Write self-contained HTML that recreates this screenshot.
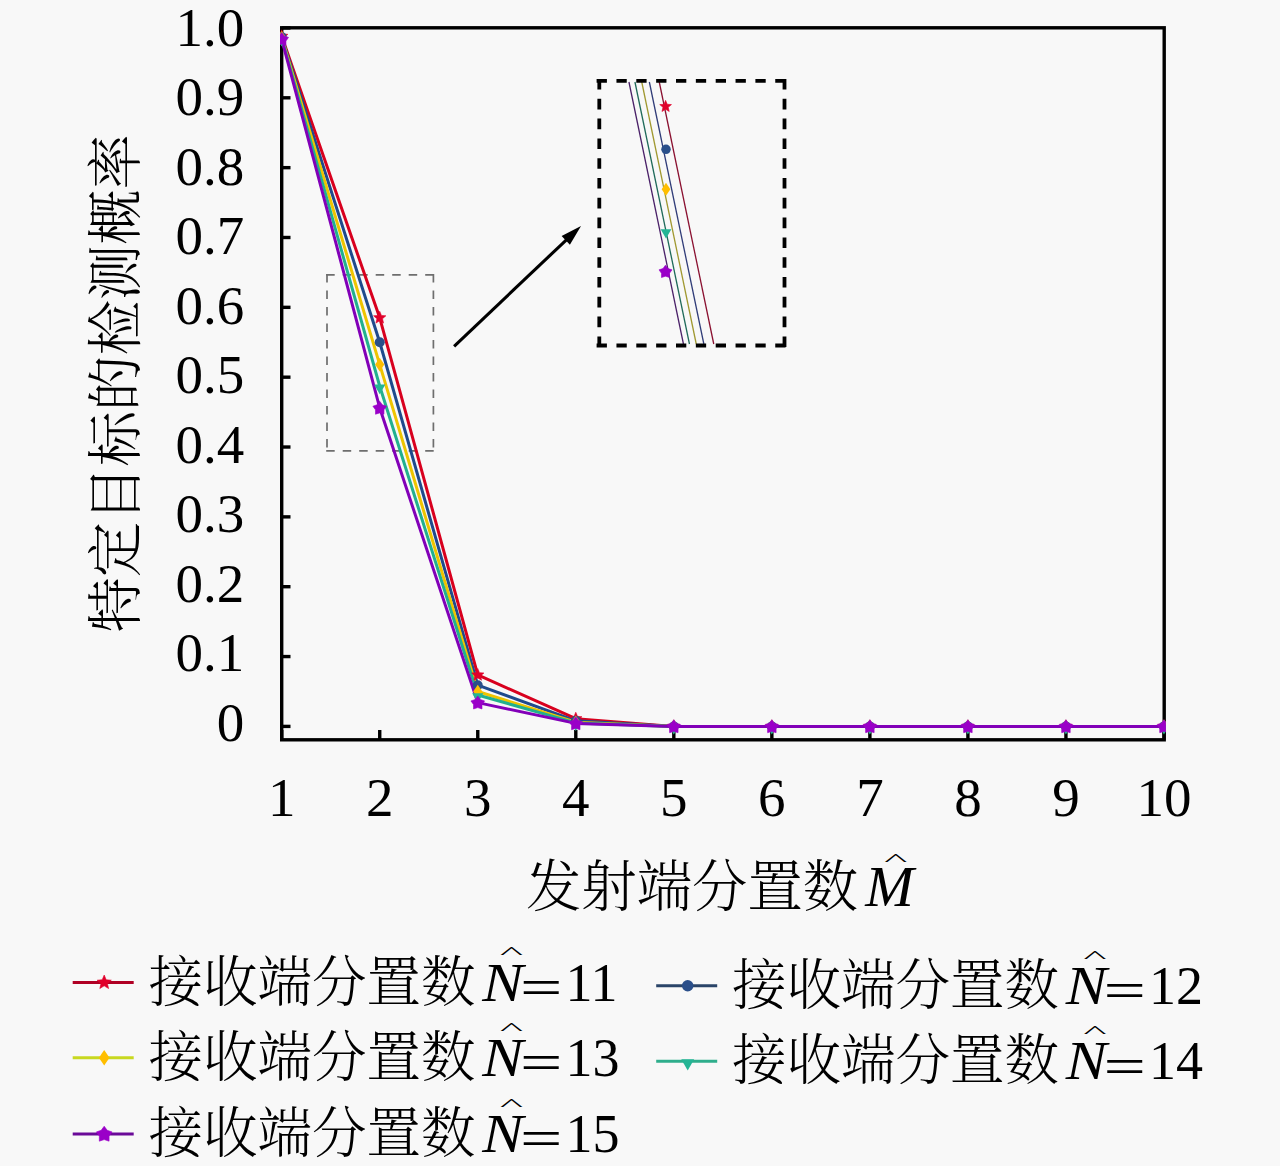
<!DOCTYPE html>
<html><head><meta charset="utf-8"><style>
html,body{margin:0;padding:0;background:#f8f8f8;overflow:hidden;}
svg{display:block;}
</style></head><body>
<svg width="1280" height="1166" viewBox="0 0 1280 1166">
<rect x="0" y="0" width="1280" height="1166" fill="#f8f8f8"/>
<defs><clipPath id="pc"><rect x="280" y="26" width="885.9" height="715.5"/></clipPath></defs>
<rect x="281.7" y="27.8" width="882.5" height="712" fill="none" stroke="#000" stroke-width="3.4"/>
<line x1="281.7" y1="726.40" x2="290.5" y2="726.40" stroke="#000" stroke-width="3.4"/>
<line x1="281.7" y1="656.56" x2="290.5" y2="656.56" stroke="#000" stroke-width="3.4"/>
<line x1="281.7" y1="586.71" x2="290.5" y2="586.71" stroke="#000" stroke-width="3.4"/>
<line x1="281.7" y1="516.87" x2="290.5" y2="516.87" stroke="#000" stroke-width="3.4"/>
<line x1="281.7" y1="447.02" x2="290.5" y2="447.02" stroke="#000" stroke-width="3.4"/>
<line x1="281.7" y1="377.18" x2="290.5" y2="377.18" stroke="#000" stroke-width="3.4"/>
<line x1="281.7" y1="307.34" x2="290.5" y2="307.34" stroke="#000" stroke-width="3.4"/>
<line x1="281.7" y1="237.49" x2="290.5" y2="237.49" stroke="#000" stroke-width="3.4"/>
<line x1="281.7" y1="167.65" x2="290.5" y2="167.65" stroke="#000" stroke-width="3.4"/>
<line x1="281.7" y1="97.80" x2="290.5" y2="97.80" stroke="#000" stroke-width="3.4"/>
<line x1="281.7" y1="27.96" x2="290.5" y2="27.96" stroke="#000" stroke-width="3.4"/>
<line x1="281.70" y1="739.8" x2="281.70" y2="730" stroke="#000" stroke-width="3.4"/>
<line x1="379.73" y1="739.8" x2="379.73" y2="730" stroke="#000" stroke-width="3.4"/>
<line x1="477.76" y1="739.8" x2="477.76" y2="730" stroke="#000" stroke-width="3.4"/>
<line x1="575.79" y1="739.8" x2="575.79" y2="730" stroke="#000" stroke-width="3.4"/>
<line x1="673.82" y1="739.8" x2="673.82" y2="730" stroke="#000" stroke-width="3.4"/>
<line x1="771.85" y1="739.8" x2="771.85" y2="730" stroke="#000" stroke-width="3.4"/>
<line x1="869.88" y1="739.8" x2="869.88" y2="730" stroke="#000" stroke-width="3.4"/>
<line x1="967.91" y1="739.8" x2="967.91" y2="730" stroke="#000" stroke-width="3.4"/>
<line x1="1065.94" y1="739.8" x2="1065.94" y2="730" stroke="#000" stroke-width="3.4"/>
<line x1="1163.97" y1="739.8" x2="1163.97" y2="730" stroke="#000" stroke-width="3.4"/>
<line x1="326.2" y1="274.9" x2="434.2" y2="274.9" stroke="#6e6e6e" stroke-width="1.7" stroke-dasharray="8.5 8"/>
<line x1="326.2" y1="450.8" x2="434.2" y2="450.8" stroke="#6e6e6e" stroke-width="1.7" stroke-dasharray="8.5 8"/>
<line x1="327" y1="274.1" x2="327" y2="451.6" stroke="#6e6e6e" stroke-width="1.7" stroke-dasharray="8.5 8"/>
<line x1="433.4" y1="274.1" x2="433.4" y2="451.6" stroke="#6e6e6e" stroke-width="1.7" stroke-dasharray="8.5 8"/>
<g clip-path="url(#pc)" fill="none" stroke-linejoin="round">
<polyline points="281.70,36.34 379.73,317.81 477.76,674.99 575.79,718.72 673.82,726.40 771.85,726.40 869.88,726.40 967.91,726.40 1065.94,726.40 1163.97,726.40" stroke="#d8001e" stroke-width="3"/>
<polyline points="281.70,37.04 379.73,342.26 477.76,685.19 575.79,720.81 673.82,726.40 771.85,726.40 869.88,726.40 967.91,726.40 1065.94,726.40 1163.97,726.40" stroke="#1f4a8c" stroke-width="3"/>
<polyline points="281.70,37.74 379.73,364.61 477.76,691.48 575.79,722.21 673.82,726.40 771.85,726.40 869.88,726.40 967.91,726.40 1065.94,726.40 1163.97,726.40" stroke="#eec400" stroke-width="3"/>
<polyline points="281.70,38.44 379.73,386.26 477.76,694.97 575.79,722.91 673.82,726.40 771.85,726.40 869.88,726.40 967.91,726.40 1065.94,726.40 1163.97,726.40" stroke="#22b08e" stroke-width="3"/>
<polyline points="281.70,39.14 379.73,407.91 477.76,702.65 575.79,723.40 673.82,726.40 771.85,726.40 869.88,726.40 967.91,726.40 1065.94,726.40 1163.97,726.40" stroke="#8200b8" stroke-width="3"/>
</g>
<g clip-path="url(#pc)">
<polygon points="281.70,29.84 283.42,33.97 287.88,34.33 284.48,37.25 285.52,41.60 281.70,39.27 277.88,41.60 278.92,37.25 275.52,34.33 279.98,33.97" fill="#e0002a" stroke="#e0002a" stroke-width="0.6"/>
<polygon points="379.73,311.31 381.45,315.45 385.91,315.80 382.51,318.72 383.55,323.07 379.73,320.74 375.91,323.07 376.95,318.72 373.55,315.80 378.01,315.45" fill="#e0002a" stroke="#e0002a" stroke-width="0.6"/>
<polygon points="477.76,668.49 479.48,672.63 483.94,672.99 480.54,675.90 481.58,680.25 477.76,677.92 473.94,680.25 474.98,675.90 471.58,672.99 476.04,672.63" fill="#e0002a" stroke="#e0002a" stroke-width="0.6"/>
<polygon points="575.79,712.22 577.51,716.35 581.97,716.71 578.57,719.62 579.61,723.98 575.79,721.64 571.97,723.98 573.01,719.62 569.61,716.71 574.07,716.35" fill="#e0002a" stroke="#e0002a" stroke-width="0.6"/>
<polygon points="673.82,719.90 675.54,724.03 680.00,724.39 676.60,727.30 677.64,731.66 673.82,729.32 670.00,731.66 671.04,727.30 667.64,724.39 672.10,724.03" fill="#e0002a" stroke="#e0002a" stroke-width="0.6"/>
<polygon points="771.85,719.90 773.57,724.03 778.03,724.39 774.63,727.30 775.67,731.66 771.85,729.32 768.03,731.66 769.07,727.30 765.67,724.39 770.13,724.03" fill="#e0002a" stroke="#e0002a" stroke-width="0.6"/>
<polygon points="869.88,719.90 871.60,724.03 876.06,724.39 872.66,727.30 873.70,731.66 869.88,729.32 866.06,731.66 867.10,727.30 863.70,724.39 868.16,724.03" fill="#e0002a" stroke="#e0002a" stroke-width="0.6"/>
<polygon points="967.91,719.90 969.63,724.03 974.09,724.39 970.69,727.30 971.73,731.66 967.91,729.32 964.09,731.66 965.13,727.30 961.73,724.39 966.19,724.03" fill="#e0002a" stroke="#e0002a" stroke-width="0.6"/>
<polygon points="1065.94,719.90 1067.66,724.03 1072.12,724.39 1068.72,727.30 1069.76,731.66 1065.94,729.32 1062.12,731.66 1063.16,727.30 1059.76,724.39 1064.22,724.03" fill="#e0002a" stroke="#e0002a" stroke-width="0.6"/>
<polygon points="1163.97,719.90 1165.69,724.03 1170.15,724.39 1166.75,727.30 1167.79,731.66 1163.97,729.32 1160.15,731.66 1161.19,727.30 1157.79,724.39 1162.25,724.03" fill="#e0002a" stroke="#e0002a" stroke-width="0.6"/>
<circle cx="281.70" cy="37.04" r="5.00" fill="#2a4f8a"/>
<circle cx="379.73" cy="342.26" r="5.00" fill="#2a4f8a"/>
<circle cx="477.76" cy="685.19" r="5.00" fill="#2a4f8a"/>
<circle cx="575.79" cy="720.81" r="5.00" fill="#2a4f8a"/>
<circle cx="673.82" cy="726.40" r="5.00" fill="#2a4f8a"/>
<circle cx="771.85" cy="726.40" r="5.00" fill="#2a4f8a"/>
<circle cx="869.88" cy="726.40" r="5.00" fill="#2a4f8a"/>
<circle cx="967.91" cy="726.40" r="5.00" fill="#2a4f8a"/>
<circle cx="1065.94" cy="726.40" r="5.00" fill="#2a4f8a"/>
<circle cx="1163.97" cy="726.40" r="5.00" fill="#2a4f8a"/>
<polygon points="281.70,30.94 286.30,37.74 281.70,44.54 277.10,37.74" fill="#ffbe00"/>
<polygon points="379.73,357.81 384.33,364.61 379.73,371.41 375.13,364.61" fill="#ffbe00"/>
<polygon points="477.76,684.68 482.36,691.48 477.76,698.28 473.16,691.48" fill="#ffbe00"/>
<polygon points="575.79,715.41 580.39,722.21 575.79,729.01 571.19,722.21" fill="#ffbe00"/>
<polygon points="673.82,719.60 678.42,726.40 673.82,733.20 669.22,726.40" fill="#ffbe00"/>
<polygon points="771.85,719.60 776.45,726.40 771.85,733.20 767.25,726.40" fill="#ffbe00"/>
<polygon points="869.88,719.60 874.48,726.40 869.88,733.20 865.28,726.40" fill="#ffbe00"/>
<polygon points="967.91,719.60 972.51,726.40 967.91,733.20 963.31,726.40" fill="#ffbe00"/>
<polygon points="1065.94,719.60 1070.54,726.40 1065.94,733.20 1061.34,726.40" fill="#ffbe00"/>
<polygon points="1163.97,719.60 1168.57,726.40 1163.97,733.20 1159.37,726.40" fill="#ffbe00"/>
<polygon points="281.70,46.44 276.07,36.69 287.33,36.69" fill="#25b595"/>
<polygon points="379.73,394.26 374.10,384.51 385.36,384.51" fill="#25b595"/>
<polygon points="477.76,702.97 472.13,693.22 483.39,693.22" fill="#25b595"/>
<polygon points="575.79,730.91 570.16,721.16 581.42,721.16" fill="#25b595"/>
<polygon points="673.82,734.40 668.19,724.65 679.45,724.65" fill="#25b595"/>
<polygon points="771.85,734.40 766.22,724.65 777.48,724.65" fill="#25b595"/>
<polygon points="869.88,734.40 864.25,724.65 875.51,724.65" fill="#25b595"/>
<polygon points="967.91,734.40 962.28,724.65 973.54,724.65" fill="#25b595"/>
<polygon points="1065.94,734.40 1060.31,724.65 1071.57,724.65" fill="#25b595"/>
<polygon points="1163.97,734.40 1158.34,724.65 1169.60,724.65" fill="#25b595"/>
<polygon points="281.70,32.44 284.32,36.02 288.55,37.41 285.95,41.01 285.93,45.46 281.70,44.10 277.47,45.46 277.45,41.01 274.85,37.41 279.08,36.02" fill="#9a00c8" stroke="#9a00c8" stroke-width="0.6"/>
<polygon points="379.73,401.21 382.35,404.80 386.58,406.19 383.98,409.79 383.96,414.24 379.73,412.88 375.50,414.24 375.48,409.79 372.88,406.19 377.11,404.80" fill="#9a00c8" stroke="#9a00c8" stroke-width="0.6"/>
<polygon points="477.76,695.95 480.38,699.54 484.61,700.93 482.01,704.53 481.99,708.98 477.76,707.62 473.53,708.98 473.51,704.53 470.91,700.93 475.14,699.54" fill="#9a00c8" stroke="#9a00c8" stroke-width="0.6"/>
<polygon points="575.79,716.70 578.41,720.29 582.64,721.67 580.04,725.28 580.02,729.72 575.79,728.36 571.56,729.72 571.54,725.28 568.94,721.67 573.17,720.29" fill="#9a00c8" stroke="#9a00c8" stroke-width="0.6"/>
<polygon points="673.82,719.70 676.44,723.29 680.67,724.68 678.07,728.28 678.05,732.72 673.82,731.36 669.59,732.72 669.57,728.28 666.97,724.68 671.20,723.29" fill="#9a00c8" stroke="#9a00c8" stroke-width="0.6"/>
<polygon points="771.85,719.70 774.47,723.29 778.70,724.68 776.10,728.28 776.08,732.72 771.85,731.36 767.62,732.72 767.60,728.28 765.00,724.68 769.23,723.29" fill="#9a00c8" stroke="#9a00c8" stroke-width="0.6"/>
<polygon points="869.88,719.70 872.50,723.29 876.73,724.68 874.13,728.28 874.11,732.72 869.88,731.36 865.65,732.72 865.63,728.28 863.03,724.68 867.26,723.29" fill="#9a00c8" stroke="#9a00c8" stroke-width="0.6"/>
<polygon points="967.91,719.70 970.53,723.29 974.76,724.68 972.16,728.28 972.14,732.72 967.91,731.36 963.68,732.72 963.66,728.28 961.06,724.68 965.29,723.29" fill="#9a00c8" stroke="#9a00c8" stroke-width="0.6"/>
<polygon points="1065.94,719.70 1068.56,723.29 1072.79,724.68 1070.19,728.28 1070.17,732.72 1065.94,731.36 1061.71,732.72 1061.69,728.28 1059.09,724.68 1063.32,723.29" fill="#9a00c8" stroke="#9a00c8" stroke-width="0.6"/>
<polygon points="1163.97,719.70 1166.59,723.29 1170.82,724.68 1168.22,728.28 1168.20,732.72 1163.97,731.36 1159.74,732.72 1159.72,728.28 1157.12,724.68 1161.35,723.29" fill="#9a00c8" stroke="#9a00c8" stroke-width="0.6"/>
</g>
<g>
<line x1="628.95" y1="82" x2="683.45" y2="344" stroke="#4a2068" stroke-width="1.3"/>
<line x1="634.95" y1="82" x2="689.45" y2="344" stroke="#1f6a5a" stroke-width="1.3"/>
<line x1="641.75" y1="82" x2="696.25" y2="344" stroke="#a09830" stroke-width="1.3"/>
<line x1="649.35" y1="82" x2="703.85" y2="344" stroke="#303c78" stroke-width="1.3"/>
<line x1="659.25" y1="82" x2="713.75" y2="344" stroke="#8a1030" stroke-width="1.3"/>
<polygon points="665.50,265.14 667.99,268.54 672.01,269.86 669.53,273.29 669.52,277.51 665.50,276.22 661.48,277.51 661.47,273.29 658.99,269.86 663.01,268.54" fill="#9a00c8" stroke="#9a00c8" stroke-width="0.6"/>
<polygon points="666.00,238.60 660.65,229.34 671.35,229.34" fill="#25b595"/>
<polygon points="666.00,182.84 670.37,189.30 666.00,195.76 661.63,189.30" fill="#ffbe00"/>
<circle cx="666.00" cy="149.30" r="4.75" fill="#2a4f8a"/>
<polygon points="665.60,100.33 667.23,104.25 671.47,104.59 668.24,107.36 669.23,111.50 665.60,109.28 661.97,111.50 662.96,107.36 659.73,104.59 663.97,104.25" fill="#e0002a" stroke="#e0002a" stroke-width="0.6"/>
</g>
<line x1="596.6" y1="80.8" x2="786.4" y2="80.8" stroke="#000" stroke-width="3.8" stroke-dasharray="10.3 9.55"/>
<line x1="596.6" y1="345.5" x2="786.4" y2="345.5" stroke="#000" stroke-width="3.8" stroke-dasharray="10.3 9.55"/>
<line x1="599.3" y1="79" x2="599.3" y2="347.4" stroke="#000" stroke-width="3.8" stroke-dasharray="10.6 9.2"/>
<line x1="784.5" y1="79" x2="784.5" y2="347.4" stroke="#000" stroke-width="3.8" stroke-dasharray="10.6 9.2"/>
<line x1="454.1" y1="346.3" x2="567.21" y2="239.07" stroke="#000" stroke-width="3.1"/>
<polygon points="581.0,226.0 569.89,244.80 561.63,236.09" fill="#000"/>
<g font-family="'Liberation Serif', serif" font-size="55" fill="#000">
<text x="244.3" y="740.90" text-anchor="end">0</text>
<text x="244.3" y="671.40" text-anchor="end">0.1</text>
<text x="244.3" y="601.90" text-anchor="end">0.2</text>
<text x="244.3" y="532.40" text-anchor="end">0.3</text>
<text x="244.3" y="462.90" text-anchor="end">0.4</text>
<text x="244.3" y="393.40" text-anchor="end">0.5</text>
<text x="244.3" y="323.90" text-anchor="end">0.6</text>
<text x="244.3" y="254.40" text-anchor="end">0.7</text>
<text x="244.3" y="184.90" text-anchor="end">0.8</text>
<text x="244.3" y="115.40" text-anchor="end">0.9</text>
<text x="244.3" y="45.90" text-anchor="end">1.0</text>
<text x="281.70" y="815.5" text-anchor="middle">1</text>
<text x="379.73" y="815.5" text-anchor="middle">2</text>
<text x="477.76" y="815.5" text-anchor="middle">3</text>
<text x="575.79" y="815.5" text-anchor="middle">4</text>
<text x="673.82" y="815.5" text-anchor="middle">5</text>
<text x="771.85" y="815.5" text-anchor="middle">6</text>
<text x="869.88" y="815.5" text-anchor="middle">7</text>
<text x="967.91" y="815.5" text-anchor="middle">8</text>
<text x="1065.94" y="815.5" text-anchor="middle">9</text>
<text x="1163.97" y="815.5" text-anchor="middle">10</text>
</g>
<text transform="translate(135.3,383.3) rotate(-90)" text-anchor="middle" font-family="'Liberation Serif', 'Noto Serif CJK SC', serif" font-weight="300" font-size="55.4" fill="#000">特定目标的检测概率</text>
<text x="525.9" y="905.6" font-family="'Liberation Serif', 'Noto Serif CJK SC', serif" font-weight="300" font-size="55.4" fill="#000">发射端分置数</text>
<text transform="translate(865.2,905.6) scale(1.06,1.03)" font-family="'Liberation Serif', serif" font-style="italic" font-size="55" fill="#000">M</text>
<text transform="translate(884.2,865.3) scale(1.02,0.37)" font-family="'Liberation Serif', serif" font-size="48" fill="#000">^</text>
<line x1="72.7" y1="982.5" x2="133.7" y2="982.5" stroke="#b00024" stroke-width="3"/>
<polygon points="104.20,975.02 106.18,979.78 111.31,980.19 107.40,983.54 108.59,988.55 104.20,985.86 99.81,988.55 101.00,983.54 97.09,980.19 102.22,979.78" fill="#e0002a" stroke="#e0002a" stroke-width="0.6"/>
<text x="148.5" y="1000.5" font-family="'Liberation Serif', 'Noto Serif CJK SC', serif" font-weight="300" font-size="54.5" fill="#000">接收端分置数</text>
<text transform="translate(482.3,1000.5) scale(1.12,1.0)" font-family="'Liberation Serif', serif" font-style="italic" font-size="55" fill="#000">N</text>
<text transform="translate(499.9,958.3) scale(1.02,0.37)" font-family="'Liberation Serif', serif" font-size="48" fill="#000">^</text>
<text transform="translate(520,1005.0) scale(1.3673,0.9727)" font-family="'Liberation Serif', serif" font-size="55" fill="#000">=</text>
<text x="565.4" y="1000.5" font-family="'Liberation Serif', serif" font-size="54" fill="#000">11</text>
<line x1="656.2" y1="985.8" x2="717.2" y2="985.8" stroke="#2a4468" stroke-width="3"/>
<circle cx="687.70" cy="985.80" r="5.75" fill="#2a4f8a"/>
<text x="732.0" y="1003.8" font-family="'Liberation Serif', 'Noto Serif CJK SC', serif" font-weight="300" font-size="54.5" fill="#000">接收端分置数</text>
<text transform="translate(1065.8,1003.8) scale(1.12,1.0)" font-family="'Liberation Serif', serif" font-style="italic" font-size="55" fill="#000">N</text>
<text transform="translate(1083.4,961.6) scale(1.02,0.37)" font-family="'Liberation Serif', serif" font-size="48" fill="#000">^</text>
<text transform="translate(1103.5,1008.3) scale(1.3673,0.9727)" font-family="'Liberation Serif', serif" font-size="55" fill="#000">=</text>
<text x="1148.9" y="1003.8" font-family="'Liberation Serif', serif" font-size="54" fill="#000">12</text>
<line x1="72.7" y1="1057.7" x2="133.7" y2="1057.7" stroke="#c8d820" stroke-width="3"/>
<polygon points="104.20,1049.88 109.49,1057.70 104.20,1065.52 98.91,1057.70" fill="#ffbe00"/>
<text x="148.5" y="1075.7" font-family="'Liberation Serif', 'Noto Serif CJK SC', serif" font-weight="300" font-size="54.5" fill="#000">接收端分置数</text>
<text transform="translate(482.3,1075.7) scale(1.12,1.0)" font-family="'Liberation Serif', serif" font-style="italic" font-size="55" fill="#000">N</text>
<text transform="translate(499.9,1033.5) scale(1.02,0.37)" font-family="'Liberation Serif', serif" font-size="48" fill="#000">^</text>
<text transform="translate(520,1080.2) scale(1.3673,0.9727)" font-family="'Liberation Serif', serif" font-size="55" fill="#000">=</text>
<text x="565.4" y="1075.7" font-family="'Liberation Serif', serif" font-size="54" fill="#000">13</text>
<line x1="656.2" y1="1061.3" x2="717.2" y2="1061.3" stroke="#2fae8c" stroke-width="3"/>
<polygon points="687.70,1070.50 681.23,1059.29 694.17,1059.29" fill="#25b595"/>
<text x="732.0" y="1079.3" font-family="'Liberation Serif', 'Noto Serif CJK SC', serif" font-weight="300" font-size="54.5" fill="#000">接收端分置数</text>
<text transform="translate(1065.8,1079.3) scale(1.12,1.0)" font-family="'Liberation Serif', serif" font-style="italic" font-size="55" fill="#000">N</text>
<text transform="translate(1083.4,1037.1) scale(1.02,0.37)" font-family="'Liberation Serif', serif" font-size="48" fill="#000">^</text>
<text transform="translate(1103.5,1083.8) scale(1.3673,0.9727)" font-family="'Liberation Serif', serif" font-size="55" fill="#000">=</text>
<text x="1148.9" y="1079.3" font-family="'Liberation Serif', serif" font-size="54" fill="#000">14</text>
<line x1="72.7" y1="1133.9" x2="133.7" y2="1133.9" stroke="#6a0a98" stroke-width="3"/>
<polygon points="104.20,1126.20 107.22,1130.32 112.07,1131.92 109.08,1136.06 109.07,1141.17 104.20,1139.61 99.33,1141.17 99.32,1136.06 96.33,1131.92 101.18,1130.32" fill="#9a00c8" stroke="#9a00c8" stroke-width="0.6"/>
<text x="148.5" y="1151.9" font-family="'Liberation Serif', 'Noto Serif CJK SC', serif" font-weight="300" font-size="54.5" fill="#000">接收端分置数</text>
<text transform="translate(482.3,1151.9) scale(1.12,1.0)" font-family="'Liberation Serif', serif" font-style="italic" font-size="55" fill="#000">N</text>
<text transform="translate(499.9,1109.7) scale(1.02,0.37)" font-family="'Liberation Serif', serif" font-size="48" fill="#000">^</text>
<text transform="translate(520,1156.4) scale(1.3673,0.9727)" font-family="'Liberation Serif', serif" font-size="55" fill="#000">=</text>
<text x="565.4" y="1151.9" font-family="'Liberation Serif', serif" font-size="54" fill="#000">15</text>
</svg>
</body></html>
